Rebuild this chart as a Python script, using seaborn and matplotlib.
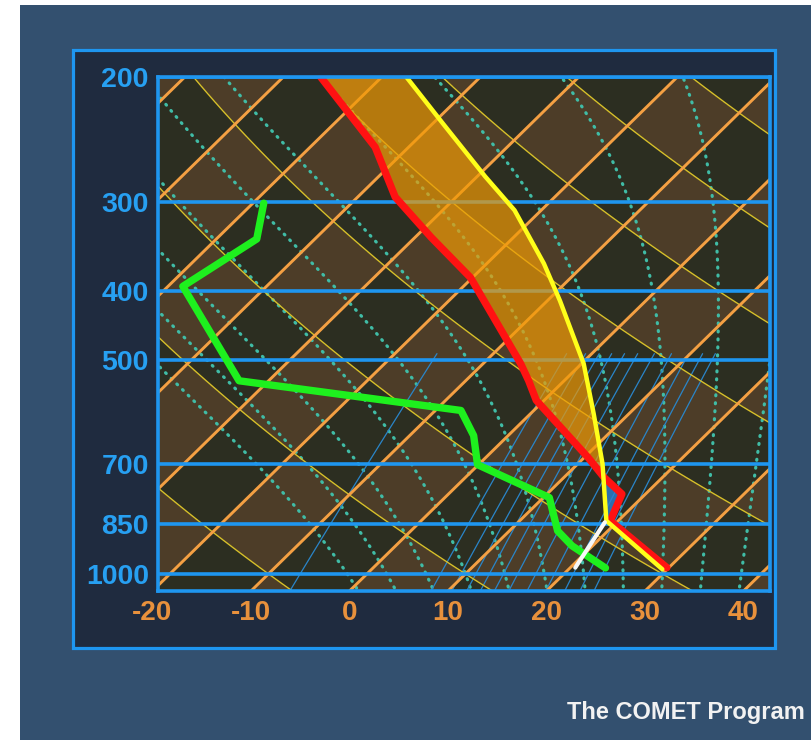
import numpy as np
import matplotlib
matplotlib.use("Agg")
import matplotlib.pyplot as plt
import matplotlib.transforms as mtransforms
from matplotlib import font_manager
from matplotlib.patches import Rectangle
from matplotlib.ticker import NullLocator
import seaborn as sns

# ---------------- sounding data (pressure in hPa, temperature in degC) ----------------
env_p = [200, 251, 295, 336, 383, 506, 535, 570, 685, 732, 772, 842, 980]
env_t = [-56.2, -43.4, -36.2, -28.4, -20.2, -6.2, -3.6, -0.8, 10.3, 14.1, 17.6, 19.2, 29.8]

dew_p = [301, 338, 394, 535, 589, 639, 702, 781, 870, 913, 981]
dew_t = [-48.9, -45.9, -48.5, -33.0, -7.4, -3.5, -0.1, 10.6, 14.9, 17.9, 23.6]

parcel_p = [200, 232, 276, 308, 366, 413, 506, 595, 700, 842, 985]
parcel_t = [-47.5, -39.1, -29.2, -22.7, -14.2, -8.7, 0.2, 6.4, 12.5, 18.8, 29.5]

lift_p = [980, 846]
lift_t = [20.5, 18.8]

# ---------------- diagram background lines ----------------
isobars = [200, 300, 400, 500, 700, 850, 1000]
isobar_labels = ["200", "300", "400", "500", "700", "850", "1000"]
temp_ticks = [-20, -10, 0, 10, 20, 30, 40]
temp_labels = ["-20", "-10", "0", "10", "20", "30", "40"]
isotherms = list(range(-130, 50, 10))
dry_adiabats_c = [-10, 10, 30, 50, 70, 90, 110, 130]
moist_adiabats_c = [-2, 2, 6, 10, 14, 18, 22, 26, 30, 34, 38]
mixing_ratios = [2.3, 6.5, 7.5, 8.3, 9.1, 10, 11, 12.4, 14, 15.8, 17.4, 19]

# ---------------- geometry / style ----------------
W, H = 812, 740
SKEW = 32.0
P_BOT, P_TOP = 1057.0, 200.0
XMIN, XMAX = -19.39, 42.69

OUTER = "#33506f"
PANEL = "#1f2b3f"
FRAME = "#1e96f0"
ISOBAR = "#1e96f0"
YLAB = "#27a0f2"
XLAB = "#e8913c"
CELL_BROWN = "#4d3d28"
CELL_DARK = "#2c2e21"
ISOTHERM = "#f4a043"
DRY = "#d8c02a"
MOIST = "#40bca6"
MIXR = "#2a85c8"
CAPE = "#f09a05"
CIN = "#2a80d2"

RD, CPD, LV, EPS = 287.04, 1005.7, 2.501e6, 0.622


def skew_x(t, p):
    return np.asarray(t, float) + SKEW * np.log(P_BOT / np.asarray(p, float))


def sat_mixing_ratio(t_c, p):
    es = 6.112 * np.exp(17.67 * t_c / (t_c + 243.5))
    return EPS * es / (p - es)


def moist_adiabat_profiles(theta_w_c):
    """Pseudo-adiabats started at 1000 hPa, integrated in ln(p) with RK4."""
    t0 = np.asarray(theta_w_c, float) + 273.15

    def rate(lnp, tk):
        rs = sat_mixing_ratio(tk - 273.15, np.exp(lnp))
        return (RD * tk + LV * rs) / (CPD + LV * LV * rs * EPS / (RD * tk * tk))

    def run(grid):
        tk = t0.copy()
        out = [tk.copy()]
        for a, b in zip(grid[:-1], grid[1:]):
            h = b - a
            k1 = rate(a, tk)
            k2 = rate(a + h / 2, tk + h / 2 * k1)
            k3 = rate(a + h / 2, tk + h / 2 * k2)
            k4 = rate(b, tk + h * k3)
            tk = tk + h / 6 * (k1 + 2 * k2 + 2 * k3 + k4)
            out.append(tk.copy())
        return np.array(out)

    up = np.linspace(np.log(1000), np.log(190), 300)
    down = np.linspace(np.log(1000), np.log(1070), 20)
    t_up, t_down = run(up), run(down)
    lnp = np.concatenate([down[::-1], up[1:]])
    tk = np.concatenate([t_down[::-1], t_up[1:]])
    return np.exp(lnp), tk - 273.15


# ---------------- fonts ----------------
sns.set_theme(style="white")
installed = {f.name for f in font_manager.fontManager.ttflist}
narrow = "Liberation Sans Narrow" in installed
if narrow:
    plt.rcParams["font.family"] = ["Liberation Sans Narrow", "Liberation Sans", "DejaVu Sans"]
    fs_y, fs_x, fs_credit = 22, 21, 19.5
else:
    plt.rcParams["font.family"] = ["Liberation Sans", "DejaVu Sans"]
    fs_y, fs_x, fs_credit = 20.5, 20, 17

# ---------------- figure frame ----------------
fig = plt.figure(figsize=(W / 100, H / 100), dpi=100, facecolor="white")
fig.add_artist(Rectangle((20 / W, 0), 1 - 20 / W, 1 - 5 / H, transform=fig.transFigure,
                         facecolor=OUTER, edgecolor="none", zorder=-3))
fig.add_artist(Rectangle((73 / W, 1 - 648 / H), 702 / W, 598 / H, transform=fig.transFigure,
                         facecolor=PANEL, edgecolor=FRAME, linewidth=2.3, zorder=-2))

ax = fig.add_axes([158.5 / W, 1 - 591 / H, 611.5 / W, 514 / H])
ax.set_facecolor(PANEL)
ax.set_yscale("log")
ax.set_xlim(XMIN, XMAX)
ax.set_ylim(P_BOT, P_TOP)

# ---------------- checkerboard between isotherms and dry adiabats ----------------
gx = np.linspace(XMIN - 2, XMAX + 2, 500)
gp = np.geomspace(190, 1070, 500)
GX, GP = np.meshgrid(gx, gp)
GT = GX - SKEW * np.log(P_BOT / GP)
GTH = (GT + 273.15) * (1000.0 / GP) ** 0.2857 - 273.15
Z = np.sin(np.pi * GT / 10.0) * np.sin(np.pi * (GTH - 10.0) / 20.0)
ax.contourf(GX, GP, Z, levels=[-2, 0, 2], colors=[CELL_BROWN, CELL_DARK], zorder=1)

# saturated adiabats (dotted)
mp, mt = moist_adiabat_profiles(moist_adiabats_c)
for i in range(len(moist_adiabats_c)):
    ax.plot(skew_x(mt[:, i], mp), mp, color=MOIST, lw=2.3,
            linestyle=(0, (0.3, 2.2)), dash_capstyle="round", zorder=2)

# mixing ratio lines (lower troposphere)
pm = np.geomspace(490, 1060, 60)
for w in mixing_ratios:
    e = w * pm / (622.0 + w)
    lg = np.log(e / 6.112)
    td = 243.5 * lg / (17.67 - lg)
    ax.plot(skew_x(td, pm), pm, color=MIXR, lw=0.9, zorder=2.2)

# dry adiabats
pd_ = np.geomspace(190, 1070, 120)
for th in dry_adiabats_c:
    t = (th + 273.15) * (pd_ / 1000.0) ** 0.2857 - 273.15
    ax.plot(skew_x(t, pd_), pd_, color=DRY, lw=1.0, zorder=3)

# isotherms
pi_ = np.array([1070.0, 190.0])
for t in isotherms:
    ax.plot(skew_x([t, t], pi_), pi_, color=ISOTHERM, lw=2.1, zorder=3.5)

# isobars
for p in isobars:
    ax.axhline(p, color=ISOBAR, lw=2.6, zorder=4)

# ---------------- positive / negative area between parcel and environment ----------------
pg = np.geomspace(200, 842, 400)
xe = skew_x(np.interp(np.log(pg), np.log(env_p), env_t), pg)
xp = skew_x(np.interp(np.log(pg), np.log(parcel_p), parcel_t), pg)
ax.fill_betweenx(pg, xe, xp, where=xp >= xe, interpolate=True,
                 color=CAPE, alpha=0.7, linewidth=0, zorder=5)
ax.fill_betweenx(pg, xe, xp, where=xp < xe, interpolate=True,
                 color=CIN, alpha=0.8, linewidth=0, zorder=5)

# ---------------- sounding curves ----------------
sns.lineplot(x=skew_x(dew_t, dew_p), y=np.array(dew_p, float), sort=False, estimator=None,
             color="#1ef01e", linewidth=5.3, ax=ax, zorder=6)
sns.lineplot(x=skew_x(env_t, env_p), y=np.array(env_p, float), sort=False, estimator=None,
             color="#ff1212", linewidth=5.3, ax=ax, zorder=7)
sns.lineplot(x=skew_x(parcel_t, parcel_p), y=np.array(parcel_p, float), sort=False, estimator=None,
             color="#ffff1a", linewidth=3.2, ax=ax, zorder=8)
sns.lineplot(x=skew_x(lift_t, lift_p), y=np.array(lift_p, float), sort=False, estimator=None,
             color="#f8f8f8", linewidth=3.0, ax=ax, zorder=8)

# ---------------- axes decoration ----------------
ax.set_xlabel("")
ax.set_ylabel("")
ax.set_xticks([])
ax.yaxis.set_minor_locator(NullLocator())
ax.set_yticks(isobars)
ax.set_yticklabels(isobar_labels, fontsize=fs_y, fontweight="bold", color=YLAB)
ax.tick_params(axis="y", length=0, pad=7.0)
ax.grid(False)
for s in ax.spines.values():
    s.set_visible(True)
    s.set_color(FRAME)
    s.set_linewidth(2.6)
    s.set_zorder(10)

bt = mtransforms.blended_transform_factory(ax.transData, ax.transAxes)
for t, lab in zip(temp_ticks, temp_labels):
    ax.text(t, -0.043, lab, transform=bt, ha="center", va="center", fontsize=fs_x,
            fontweight="bold", color=XLAB, clip_on=False)

fig.text(805 / W, 1 - 719 / H, "The COMET Program", ha="right", va="baseline",
         fontsize=fs_credit, fontweight="bold", color="#f2f2f2")

fig.savefig("out.png", dpi=100, facecolor=fig.get_facecolor())
